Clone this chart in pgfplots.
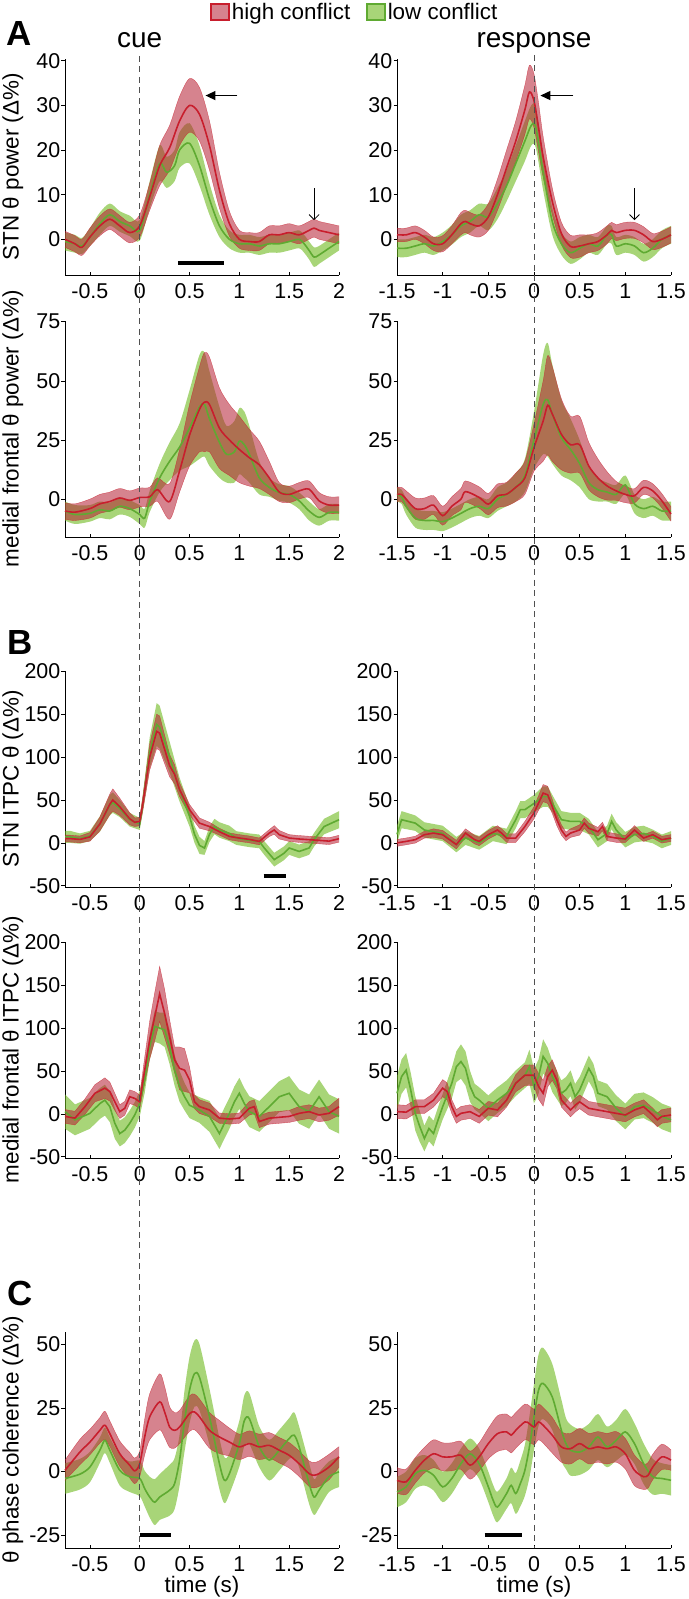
\documentclass[border=0pt]{standalone}
\usepackage{fontspec}
\setmainfont{Liberation Sans}
\usepackage{pgfplots}
\usepackage{pgfplotstable}
\pgfplotsset{compat=1.18}
\usepgfplotslibrary{fillbetween}
\usetikzlibrary{arrows.meta}

\definecolor{redline}{RGB}{200,30,45}
\definecolor{greenline}{RGB}{95,170,50}
\definecolor{redfill}{RGB}{180,30,50}
\definecolor{greenfill}{RGB}{110,185,30}
\definecolor{dashgray}{RGB}{80,80,80}

\newcommand{\fs}[1]{\fontsize{#1}{#1}\selectfont}

% ---------------- data: x, mean m, half band width w ----------------
\pgfplotstableread{
x m w
-0.75 0 1.8
-0.65 -1 1.8
-0.58 -1.8 1.8
-0.5 0.5 2
-0.4 3 2.2
-0.3 4.5 2.3
-0.2 3 2.3
-0.1 1.5 2.3
0 3 2.5
0.1 9.5 3
0.2 16.5 4.5
0.3 20.5 5
0.4 26.5 5.5
0.5 30 6
0.6 28 6
0.7 21 5.5
0.8 11 4
0.9 3.5 2.8
1.0 0 2
1.1 -0.5 2
1.2 -0.5 2
1.3 1 2
1.4 1 2
1.5 1.5 2
1.6 1 2
1.7 2 2
1.75 2.5 2
1.8 2 2
1.9 1.5 2
2.0 1 2
}\tALr
\pgfplotstableread{
x m w
-0.75 -0.5 2
-0.65 -1 2
-0.58 -1.5 1.8
-0.5 0.5 2
-0.4 3.5 2.5
-0.3 5.5 2.5
-0.2 4 2.3
-0.1 3 2.3
0 2 2.3
0.1 10 3
0.2 17 4
0.27 15 3.5
0.35 16.5 3.5
0.4 20 4
0.5 21.5 4.5
0.6 16.5 4.5
0.7 9 3.5
0.8 3 2.5
0.9 0 2
1.0 -1 2
1.1 -1 2
1.2 -1.5 2
1.3 -1 2
1.4 -1 2
1.5 -0.5 2
1.6 0 2
1.65 -1 2
1.7 -2.5 2
1.75 -4 2.2
1.8 -3.5 2
1.9 -2 2
2.0 -0.5 2
}\tALg
\pgfplotstableread{
x m w
-1.5 1 1.5
-1.4 1 1.5
-1.3 1.5 1.5
-1.2 0.5 1.5
-1.1 -1 1.5
-1.0 -1 1.8
-0.9 1 2
-0.8 3.5 2.5
-0.75 4 2.5
-0.7 3.5 2.5
-0.6 3 2.5
-0.5 5 3
-0.4 10 3.5
-0.3 16 4
-0.2 22 4.5
-0.1 29 5.5
-0.05 33 6
0 31 6
0.05 25 5.5
0.1 18.5 4.5
0.2 8.5 3
0.3 1.3 2.5
0.4 -1.6 2.5
0.5 -1.5 2.5
0.6 -1 2
0.7 -0.5 2
0.8 1 2
0.85 2 1.8
0.9 1.5 1.8
1.0 2 1.8
1.1 2 1.8
1.2 1 1.8
1.3 -0.5 1.8
1.4 0 1.8
1.5 1 1.8
}\tARr
\pgfplotstableread{
x m w
-1.5 -2 2
-1.4 -2 2
-1.3 -1.5 2
-1.2 -1 2
-1.1 -1.5 2
-1.0 -0.5 2
-0.9 1 2.2
-0.8 3 2.5
-0.7 4 2.5
-0.6 5.5 2.5
-0.5 5 3
-0.4 8 3.5
-0.3 12 3.5
-0.2 17 4
-0.1 22 4.5
-0.03 25.5 4.5
0.02 25 4.5
0.1 15 4
0.2 4 3
0.3 -1 2.5
0.4 -3 2.5
0.5 -2 2.5
0.6 -1 2
0.7 -1.5 2
0.8 1 2
0.85 1 2
0.9 -1.5 2
1.0 -1 2
1.1 -1.5 2
1.2 -3 2
1.3 -2 2
1.4 0 2
1.5 1 2
}\tARg
% ---- row 2
\pgfplotstableread{
x m w
-0.75 -5 3.5
-0.65 -5.5 3.5
-0.5 -4 4
-0.4 -2 4
-0.3 -1 4
-0.2 0.5 4
-0.1 -0.5 4
0 0.7 4
0.1 1 4
0.18 4 5
0.3 -1 7.5
0.4 12 9
0.5 27 13
0.6 38 18
0.65 41 21
0.7 40 20
0.8 30 17
0.9 25 15
1.0 21 14
1.1 17.5 12
1.2 14.5 10
1.3 9 7
1.4 3 4
1.5 2 3.5
1.6 3.5 3.5
1.7 4.2 3.5
1.8 -0.7 3.5
1.9 -2.5 3.5
2.0 -2.5 3.5
}\tBLr
\pgfplotstableread{
x m w
-0.75 -5 4
-0.65 -6.5 4
-0.5 -6 3.5
-0.4 -4.5 3.5
-0.3 -5 3.5
-0.2 -3 3.5
-0.1 -4 3.5
0 -6.5 4
0.05 -8 4
0.1 -1 4.5
0.2 9 6
0.3 16 8
0.4 22 10
0.5 30 16
0.6 39 22
0.65 40 22
0.7 34 20
0.8 24 15
0.87 19 12
0.95 20 13
1.0 24.5 14
1.05 23 14
1.1 19 12
1.2 9 7
1.3 5 4
1.4 2.8 3.5
1.5 2 3.5
1.6 -0.7 3.5
1.7 -5 4
1.8 -7.7 3.5
1.9 -5.6 3.5
2.0 -5.6 3.5
}\tBLg
\pgfplotstableread{
x m w
-1.5 2 3
-1.45 2 3
-1.4 0 3.5
-1.3 -4 4.5
-1.2 -4 4.5
-1.1 -2.5 4
-1.0 -7 4
-0.9 -3 4
-0.8 0 4.5
-0.75 3.2 4.5
-0.6 0.7 4.5
-0.5 -2.1 4.5
-0.4 1.4 5
-0.3 2.1 5
-0.2 5 6
-0.1 9 7
0 21.8 10
0.1 33 17
0.15 39.7 21
0.2 36 20
0.3 27.4 15
0.4 23 12
0.5 23 12
0.6 14 10
0.7 9 8
0.8 5.6 6
0.9 3.5 4
1.0 2 3.5
1.1 1.4 3
1.2 5 3
1.3 3.5 3
1.4 -0.7 3
1.5 -6.3 3
}\tBRr
\pgfplotstableread{
x m w
-1.5 2 3
-1.45 1 3
-1.4 -3 3.5
-1.3 -8 4
-1.2 -9 4
-1.1 -9 4
-1.0 -9.5 4
-0.9 -8 4
-0.8 -6 4
-0.7 -4 4
-0.6 -3 4
-0.5 -4 4
-0.4 0 5
-0.3 2 5
-0.2 5 6
-0.1 10 7
0 25 12
0.1 40 21
0.15 42 24
0.2 36 21
0.3 26 16
0.4 21 13
0.5 15 10
0.6 7 7
0.7 4 5
0.8 3 4
0.9 2 4
1.0 6 4
1.1 -2 4
1.2 -4 4
1.3 -3 4
1.4 -5 4
1.5 -5 4
}\tBRg
% ---- row 3
\pgfplotstableread{
x m w
-0.75 5 4
-0.7 5 4
-0.6 4 4
-0.5 7 5
-0.4 22 8
-0.3 45 12
-0.27 50 13
-0.2 42 10
-0.1 28 7
-0.05 24 5
0 25 5
0.03 45 8
0.1 100 15
0.17 130 20
0.2 128 20
0.3 90 13
0.35 80 11
0.4 62 8
0.5 38.7 6
0.6 23 6
0.7 19 5
0.8 13 4
0.9 7.5 4
1.0 5.6 4
1.1 4 4
1.2 1.7 4
1.3 11.4 4
1.35 15 5
1.4 9.5 5
1.5 5.6 4
1.6 4.5 4
1.7 3.7 4
1.8 2.9 4
1.9 2 4
2.0 4.8 4
}\tCLr
\pgfplotstableread{
x m w
-0.75 7 7
-0.7 7 7
-0.6 5 6
-0.5 8 6
-0.4 22 9
-0.3 44 12
-0.27 47 12
-0.2 40 10
-0.1 27 8
0 22 7
0.03 45 10
0.1 105 18
0.17 138 25
0.2 135 25
0.3 100 18
0.4 62 14
0.5 31 12
0.55 10 10
0.6 -3 10
0.65 -6 8
0.7 10 9
0.75 19 9
0.8 15 9
0.9 11 9
0.97 5.6 8
1.1 3 8
1.2 1.7 8
1.25 -6 8
1.35 -19.6 8
1.45 -12 8
1.5 -6 8
1.6 -10 8
1.7 -6 8
1.75 3.7 8
1.85 19 9
2.0 27 10
}\tCLg
\pgfplotstableread{
x m w
-1.5 0 4
-1.4 1.7 4
-1.3 3.7 4
-1.2 9.5 4
-1.1 11.4 5
-1.0 9.5 5
-0.95 5.6 5
-0.85 -2 5
-0.75 11.4 5
-0.65 3.7 5
-0.6 1.7 5
-0.5 9.5 5
-0.4 15 5
-0.35 11 5
-0.3 5.6 5
-0.2 5.6 5
-0.1 19 6
0 35 7
0.1 58 10
0.15 56 10
0.2 42.5 8
0.25 27 7
0.3 15 6
0.35 7.5 5
0.4 11.4 5
0.5 15 6
0.55 23 6
0.6 17 6
0.7 13 5
0.75 19 5
0.8 7.5 5
0.9 5.6 5
1.0 4.5 4
1.1 15 5
1.2 5.6 4
1.3 9.5 4
1.4 3.7 4
1.5 5.6 4
}\tCRr
\pgfplotstableread{
x m w
-1.5 10 10
-1.45 27 10
-1.3 23 9
-1.2 15 9
-1.0 11 9
-0.85 -2 9
-0.75 5.6 8
-0.6 0 8
-0.45 11 9
-0.3 7.5 9
-0.2 27 10
-0.15 38.7 10
-0.1 38.7 10
0 46 10
0.1 54 12
0.15 54 12
0.2 46 10
0.3 27 10
0.4 25 10
0.5 25 10
0.6 19 9
0.7 3.7 9
0.8 11 9
0.85 25 9
0.9 15 9
1.0 3.7 9
1.1 9.5 9
1.2 11 9
1.3 7.5 8
1.4 1.7 8
1.5 5.6 8
}\tCRg
% ---- row 4
\pgfplotstableread{
x m w
-0.75 -3 8
-0.65 -5 8
-0.55 8.4 9
-0.45 24 10
-0.35 30 12
-0.3 26 11
-0.25 14 10
-0.2 2.6 8
-0.15 6.5 8
-0.1 20 8
-0.05 18 8
0 14 8
0.05 51 15
0.1 86 22
0.15 113 28
0.2 140 32
0.25 117 28
0.3 90 20
0.35 63 15
0.4 53 25
0.45 51 25
0.5 39.6 15
0.55 14 8
0.6 8.4 8
0.7 4.5 8
0.8 -5 6
0.9 -6 6
1.0 -5 6
1.1 6.5 8
1.15 8.4 8
1.2 -9 7
1.3 -5 7
1.5 -3 7
1.6 0.6 8
1.7 2.6 8
1.8 -1.3 8
1.9 0.6 8
2.0 8.4 10
}\tDLr
\pgfplotstableread{
x m w
-0.75 2.6 20
-0.65 -7 18
-0.5 0.6 18
-0.4 12 18
-0.35 16 18
-0.3 8.4 18
-0.25 -11 18
-0.2 -23 15
-0.15 -19 15
-0.1 -11 15
-0.05 -1.3 15
0 12 15
0.05 39.6 15
0.1 78 15
0.15 102 18
0.2 100 18
0.25 98 20
0.3 78 20
0.35 51 18
0.4 32 18
0.45 20 16
0.5 10 15
0.6 4.5 15
0.7 -3 18
0.8 -23 18
0.85 -11 18
0.9 0.6 18
0.95 14 18
1.0 24 18
1.05 12 18
1.1 2.6 18
1.2 -3 18
1.3 8.4 18
1.4 20 18
1.5 24 20
1.55 16 20
1.6 8.4 20
1.7 2.6 20
1.8 20 20
1.9 2.6 20
2.0 -3 20
}\tDLg
\pgfplotstableread{
x m w
-1.5 2.6 8
-1.4 2 8
-1.3 8.4 8
-1.2 8.4 8
-1.1 16 8
-1.0 30 10
-0.95 26 10
-0.9 8.4 8
-0.85 -3 8
-0.8 0.6 8
-0.7 2.6 8
-0.6 -3 8
-0.5 6.5 8
-0.4 4.5 8
-0.3 16 8
-0.2 35.7 10
-0.1 45 12
0 45 12
0.05 32 15
0.1 24 15
0.15 43.5 12
0.2 51 12
0.25 39.6 10
0.3 16 8
0.4 4.5 8
0.45 10 8
0.5 14 8
0.6 6.5 8
0.7 4.5 8
0.8 2.6 8
0.9 0.6 8
1.0 -1.3 8
1.1 4.5 8
1.2 8.4 8
1.3 -1.3 8
1.35 -7 8
1.4 -3 8
1.5 -1.3 8
}\tDRr
\pgfplotstableread{
x m w
-1.5 24 20
-1.45 43.5 20
-1.4 51 20
-1.35 28 20
-1.3 0.6 20
-1.25 -15 18
-1.2 -28.7 15
-1.15 -17 15
-1.1 -23 15
-1.05 -7 15
-1.0 8.4 15
-0.9 35.7 18
-0.85 55 18
-0.8 61 20
-0.75 53 20
-0.7 32 18
-0.65 20 15
-0.6 16 15
-0.5 6.5 15
-0.4 16 15
-0.3 24 15
-0.2 35.7 15
-0.1 45 15
-0.05 55 20
0 32 20
0.05 43.5 20
0.1 67 20
0.15 59 18
0.2 43.5 18
0.3 24 15
0.35 28 15
0.4 35.7 15
0.45 20 15
0.5 28 15
0.6 53 15
0.65 43.5 15
0.7 24 15
0.8 20 15
0.9 6.5 15
1.0 -3 15
1.1 8.4 15
1.2 10 15
1.3 4.5 15
1.4 -3 15
1.5 -7 15
}\tDRg
% ---- row 5
\pgfplotstableread{
x m w
-0.75 0.5 4
-0.6 7.7 5
-0.5 11.6 5
-0.4 16.2 5
-0.35 18.2 5.5
-0.3 14.9 5
-0.2 7 5
-0.1 2.5 5
-0.05 0.3 5
0 3.1 5
0.05 13.6 7
0.1 21.5 9
0.2 27.4 11
0.25 23.4 10
0.3 17.5 8
0.35 16.2 7
0.4 17.5 6.5
0.5 22.8 7
0.55 23.4 7
0.6 21.5 7
0.7 16.2 7
0.8 13.6 6.5
0.9 11.6 5.5
1.0 9.7 5
1.1 11 5
1.2 9.7 5
1.3 10.3 5
1.4 8.4 5
1.5 6.4 5
1.6 3.1 5
1.7 -0.8 5
1.75 -1.4 5
1.8 -0.8 5
1.9 1.8 5
2.0 5.8 4
}\tELr
\pgfplotstableread{
x m w
-0.75 -2.7 6
-0.6 -1 6
-0.5 1.8 6
-0.4 8.4 5
-0.35 12.3 5
-0.3 8.4 5
-0.2 0.5 6
-0.1 -2 6
0 -2.7 7
0.05 -6.7 7
0.1 -10 8
0.15 -12 9
0.2 -10 9
0.3 -7.3 10
0.35 -4.7 10
0.4 4.5 10
0.45 20 12
0.5 32 13
0.55 38.5 13
0.6 37 13
0.7 21.5 11
0.8 3.1 10
0.85 -3.4 9
0.9 -0.8 8
1.0 11 9
1.05 20 10
1.1 20.8 10
1.2 9.7 8
1.3 4.5 8
1.4 8.4 8
1.5 13 8
1.55 14.3 9
1.6 9.7 8
1.7 -4.7 8
1.75 -10 7
1.8 -7.3 7
1.9 -2 6
2.0 -0.1 6
}\tELg
\pgfplotstableread{
x m w
-1.5 -3.4 5
-1.4 -4 5
-1.3 0.5 5
-1.2 4.5 5
-1.1 7 5.5
-1.0 5.8 5.5
-0.9 5.8 5.5
-0.8 6.4 5.5
-0.7 2.5 5.5
-0.6 5.8 5.5
-0.5 11 6
-0.4 14.9 7
-0.3 15.6 7
-0.25 14.3 7
-0.2 16.2 7
-0.1 19.5 7
-0.05 18.8 7
0 17.5 7
0.05 19.5 7
0.1 18.2 7
0.2 14.3 7
0.3 9.7 6
0.4 9 6
0.5 11 6
0.6 9 6
0.7 9.7 6
0.8 9 6
0.9 9.7 6
1.0 7 6
1.1 0.5 6
1.2 -2 5
1.25 -1.4 5
1.3 1.8 5
1.4 5.8 5
1.5 4.5 4
}\tERr
\pgfplotstableread{
x m w
-1.5 -8 6
-1.4 -6 6
-1.3 -0.8 6
-1.2 0.5 6
-1.1 -1.4 6
-1.0 -6 6
-0.9 -2.7 6
-0.8 3.1 6
-0.7 7 6
-0.6 3.1 6
-0.5 -6 6
-0.45 -11 6
-0.4 -13.9 6
-0.3 -8.6 6
-0.25 -5.4 7
-0.2 -8.6 8
-0.15 -4.7 9
-0.1 0.5 10
-0.05 9.7 12
0 21.5 13
0.05 32 14
0.1 34.6 14
0.2 29.3 13
0.3 16.2 12
0.35 11 10
0.4 8.4 10
0.5 7.7 9
0.6 9.7 9
0.7 13.6 9
0.8 9.7 8
0.9 12.3 8
1.0 15.6 9
1.1 11 8
1.2 3.1 8
1.3 -2 7
1.4 -2.7 6
1.5 -3.4 6
}\tERg

\pgfplotsset{
  rband/.style={fill=redfill, fill opacity=0.55, draw=none},
  gband/.style={fill=greenfill, fill opacity=0.6, draw=none},
  redge/.style={draw=redline, line width=0.35bp, draw opacity=0.7},
  gedge/.style={draw=none},
  rmean/.style={draw=redline, line width=1.6bp},
  gmean/.style={draw=greenline, line width=1.6bp},
  base/.style={scale only axis, height=216.5bp, width=274bp,
    axis x line*=bottom, axis y line*=left,
    axis line style={black, line width=0.7bp},
    tick style={black, line width=0.6bp},
    xtick align=inside, ytick align=outside, major tick length=3.5bp,
    clip=false,
    tick label style={font=\fs{21.5}},
    yticklabel style={inner xsep=1bp, inner ysep=0pt},
    xticklabel style={inner ysep=0.5bp, yshift=-8bp},
    ylabel style={at={(axis description cs:-0.19,0.5)}, anchor=center, font=\fs{22.5}},
    xlabel style={at={(axis description cs:0.5,-0.178)}, anchor=center, font=\fs{22.5}},
  },
  leftcol/.style={base, xmin=-0.75, xmax=2, xtick={-0.5,0,0.5,1,1.5,2}, xticklabels={-0.5,0,0.5,1,1.5,2}},
  rightcol/.style={base, xmin=-1.5, xmax=1.5, xtick={-1.5,-1,-0.5,0,0.5,1,1.5}, xticklabels={-1.5,-1,-0.5,0,0.5,1,1.5}},
  rowA/.style={ymin=-8, ymax=40.5, ytick={0,10,20,30,40}, yticklabels={0,10,20,30,40}},
  rowB/.style={ymin=-16, ymax=75.5, ytick={0,25,50,75}, yticklabels={0,25,50,75}},
  rowC/.style={ymin=-51.5, ymax=201, ytick={-50,0,50,100,150,200}, yticklabels={-50,0,50,100,150,200}},
  rowE/.style={ymin=-30, ymax=55, ytick={-25,0,25,50}, yticklabels={-25,0,25,50}},
}

% #1 table, #2 id, #3 r/g, #4 smooth / sharp plot
\newcommand{\band}[4]{%
  \addplot[name path=#2u, forget plot, #4, #3edge] table[x=x, y expr=\thisrow{m}+\thisrow{w}] {#1};
  \addplot[name path=#2l, forget plot, #4, #3edge] table[x=x, y expr=\thisrow{m}-\thisrow{w}] {#1};
  \addplot[forget plot, #3band] fill between[of=#2u and #2l];
}
\newcommand{\mline}[3]{\addplot[forget plot, #3, #2mean] table[x=x, y=m] {#1};}
\newcommand{\panel}[4]{% #1 green table, #2 red table, #3 id, #4 smooth/sharp
  \band{#1}{#3g}{g}{#4}
  \band{#2}{#3r}{r}{#4}
  \mline{#1}{g}{#4}
  \mline{#2}{r}{#4}
}

\begin{document}
\begin{tikzpicture}

% ================= row 1 =================
\begin{axis}[leftcol, rowA, at={(65bp,-275bp)}, anchor=south west,
  ylabel={STN θ power (Δ\%)},
  title={cue}, title style={at={(axis description cs:0.2727,1.025)}, anchor=base, font=\fs{28}},
  legend style={at={(axis description cs:1.058,1.215)}, anchor=center, draw=none, fill=none,
    legend columns=2, font=\fs{22.5}, inner sep=0pt,
    /tikz/every even column/.append style={column sep=14bp}},
  legend image code/.code={\draw[#1] (0bp,-8bp) rectangle (18bp,8bp);},
]
\addlegendimage{fill=redfill!55!white, draw=redline, line width=1.5bp}
\addlegendentry{high conflict}
\addlegendimage{fill=greenfill!60!white, draw=greenline, line width=1.5bp}
\addlegendentry{low conflict}
\panel{\tALg}{\tALr}{a}{smooth}
\addplot[forget plot, black, line width=4bp] coordinates {(0.383,-5.4) (0.846,-5.4)};
\addplot[forget plot, black, line width=1.5bp, -{Triangle[length=10bp,width=9bp]}] coordinates {(0.98,32.2) (0.66,32.2)};
\addplot[forget plot, black, line width=0.8bp, -{Straight Barb[length=5bp,width=10bp]}] coordinates {(1.75,11.4) (1.75,4.3)};
\coordinate (dLt) at (axis cs:0,41.1);
\node[font=\fs{35}\bfseries, anchor=base west] at (axis description cs:-0.226,1.062) {A};
\end{axis}

\begin{axis}[rightcol, rowA, at={(397bp,-275bp)}, anchor=south west,
  title={response}, title style={at={(axis description cs:0.5,1.025)}, anchor=base, font=\fs{28}}]
\panel{\tARg}{\tARr}{b}{smooth}
\addplot[forget plot, black, line width=1.5bp, -{Triangle[length=10bp,width=9bp]}] coordinates {(0.43,32.2) (0.07,32.2)};
\addplot[forget plot, black, line width=0.8bp, -{Straight Barb[length=5bp,width=10bp]}] coordinates {(1.10,11.4) (1.10,4.3)};
\coordinate (dRt) at (axis cs:0,41.3);
\end{axis}

% ================= row 2 =================
\begin{axis}[leftcol, rowB, at={(65bp,-537bp)}, anchor=south west,
  ylabel={medial frontal θ power (Δ\%)}]
\panel{\tBLg}{\tBLr}{c}{smooth}
\end{axis}
\begin{axis}[rightcol, rowB, at={(397bp,-537bp)}, anchor=south west]
\panel{\tBRg}{\tBRr}{d}{smooth}
\end{axis}

% ================= row 3 =================
\begin{axis}[leftcol, rowC, at={(65bp,-887bp)}, anchor=south west,
  ylabel={STN ITPC θ (Δ\%)}]
\panel{\tCLg}{\tCLr}{e}{sharp plot}
\addplot[forget plot, black, line width=4bp] coordinates {(1.243,-38.3) (1.472,-38.3)};
\node[font=\fs{35}\bfseries, anchor=base west] at (axis description cs:-0.222,1.075) {B};
\end{axis}
\begin{axis}[rightcol, rowC, at={(397bp,-887bp)}, anchor=south west]
\panel{\tCRg}{\tCRr}{f}{sharp plot}
\end{axis}

% ================= row 4 =================
\begin{axis}[leftcol, rowC, at={(65bp,-1158bp)}, anchor=south west,
  ylabel={medial frontal θ ITPC (Δ\%)}]
\panel{\tDLg}{\tDLr}{g}{sharp plot}
\end{axis}
\begin{axis}[rightcol, rowC, at={(397bp,-1158bp)}, anchor=south west]
\panel{\tDRg}{\tDRr}{h}{sharp plot}
\end{axis}

% ================= row 5 =================
\begin{axis}[leftcol, rowE, at={(65bp,-1548bp)}, anchor=south west,
  ylabel={θ phase coherence (Δ\%)}, xlabel={time (s)}]
\panel{\tELg}{\tELr}{i}{smooth}
\addplot[forget plot, black, line width=4bp] coordinates {(0,-25) (0.317,-25)};
\coordinate (dLb) at (axis cs:0,-30);
\node[font=\fs{35}\bfseries, anchor=base west] at (axis description cs:-0.222,1.122) {C};
\end{axis}
\begin{axis}[rightcol, rowE, at={(397bp,-1548bp)}, anchor=south west, xlabel={time (s)}]
\panel{\tERg}{\tERr}{j}{smooth}
\addplot[forget plot, black, line width=4bp] coordinates {(-0.54,-25) (-0.13,-25)};
\coordinate (dRb) at (axis cs:0,-30);
\end{axis}

\draw[dashgray, line width=0.9bp, dash pattern=on 6bp off 4.5bp] (dLt) -- (dLb);
\draw[dashgray, line width=0.9bp, dash pattern=on 6bp off 4.5bp] (dRt) -- (dRb);
\pgfresetboundingbox
\useasboundingbox (0,0) rectangle (689bp,-1599bp);
\end{tikzpicture}
\end{document}
